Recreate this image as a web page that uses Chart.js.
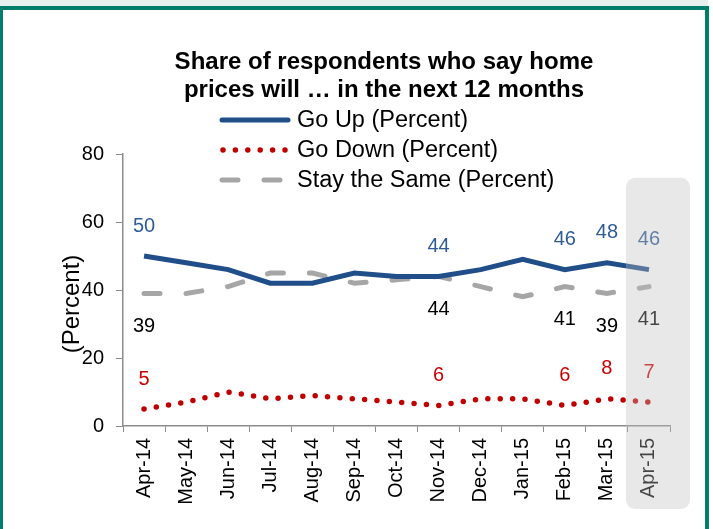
<!DOCTYPE html>
<html>
<head>
<meta charset="utf-8">
<script src="https://cdn.jsdelivr.net/npm/chart.js@4/dist/chart.umd.min.js"></script>
<style>
  html, body { margin: 0; padding: 0; background: #fff; }
  #strip { position: absolute; left: 0; top: 0; width: 708px; height: 6px; background: #e6f1ee; }
  #frame { position: absolute; left: 0; top: 6px; width: 702px; height: 540px; background: #fff;
           border-top: 4px solid #007e69; border-left: 3px solid #007e69; border-right: 4px solid #007e69; }
  #wrap { position: absolute; left: 0; top: 0; width: 713px; height: 529px; }
</style>
</head>
<body>
<div id="strip"></div>
<div id="frame"></div>
<div id="wrap"><canvas id="chart" width="713" height="529"></canvas></div>
<script>
const months = ['Apr-14','May-14','Jun-14','Jul-14','Aug-14','Sep-14','Oct-14','Nov-14','Dec-14','Jan-15','Feb-15','Mar-15','Apr-15'];
const goUp      = [50, 48, 46, 42, 42, 45, 44, 44, 46, 49, 46, 48, 46];
const goDown    = [5, 7, 10, 8, 9, 8, 7, 6, 8, 8, 6, 8, 7];
const staySame  = [39, 39, 41, 45, 45, 42, 43, 44, 41, 38, 41, 39, 41];
const labelIdx  = [0, 7, 10, 11, 12];   // months that carry value labels
const yTicks    = [0, 20, 40, 60, 80];

const BLUE = '#1f4e89', RED = '#c00000', GRAY = '#a6a6a6';
const FONT = 'Liberation Sans, Arial, sans-serif';

// title, legend, axis title, value labels and the grey highlight on the last month
const decor = {
  id: 'decor',
  afterDraw(chart) {
    const ctx = chart.ctx;
    const x = chart.scales.x, y = chart.scales.y;
    ctx.save();

    // title
    ctx.fillStyle = '#000';
    ctx.font = 'bold 24px ' + FONT;
    ctx.textAlign = 'center';
    ctx.textBaseline = 'middle';
    ctx.fillText('Share of respondents who say home', 384, 62);
    ctx.fillText('prices will … in the next 12 months', 384, 90);

    // legend
    ctx.font = '23.5px ' + FONT;
    ctx.textAlign = 'left';
    chart.data.datasets.forEach((ds, i) => {
      const ly = 120 + i * 30;
      ctx.beginPath();
      ctx.strokeStyle = ds.borderColor;
      ctx.lineWidth = ds.borderWidth;
      ctx.lineCap = 'round';
      ctx.setLineDash(ds.borderDash || []);
      ctx.moveTo(i === 1 ? 223 : 222, ly);
      ctx.lineTo(288, ly);
      ctx.stroke();
      ctx.setLineDash([]);
      ctx.fillStyle = '#000';
      ctx.fillText(ds.label, 297, ly + 1);
    });

    // y axis title
    ctx.save();
    ctx.translate(72, 304);
    ctx.rotate(-Math.PI / 2);
    ctx.textAlign = 'center';
    ctx.font = '24px ' + FONT;
    ctx.fillText('(Percent)', 0, 0);
    ctx.restore();

    // value labels
    ctx.font = '20px ' + FONT;
    ctx.textAlign = 'center';
    labelIdx.forEach(i => {
      const px = x.getPixelForValue(i);
      ctx.fillStyle = '#2f5b97';
      ctx.fillText(String(goUp[i]), px, y.getPixelForValue(goUp[i]) - 30);
      ctx.fillStyle = '#cc0000';
      ctx.fillText(String(goDown[i]), px, y.getPixelForValue(goDown[i]) - 30);
      ctx.fillStyle = '#000';
      ctx.fillText(String(staySame[i]), px, y.getPixelForValue(staySame[i]) + 33);
    });

    // highlight box over the latest month
    const left = (x.getPixelForValue(11) + x.getPixelForValue(12)) / 2 - 2;
    const right = x.right + 20;
    const top = y.getPixelForValue(73);
    const bottom = 509;
    ctx.fillStyle = 'rgba(190,190,190,0.36)';
    ctx.beginPath();
    ctx.roundRect(left, top, right - left, bottom - top, 9);
    ctx.fill();

    ctx.restore();
  }
};

new Chart(document.getElementById('chart'), {
  type: 'line',
  data: {
    labels: months,
    datasets: [
      { label: 'Go Up (Percent)', data: goUp, borderColor: BLUE, borderWidth: 5, pointRadius: 0, tension: 0 },
      { label: 'Go Down (Percent)', data: goDown, borderColor: RED, borderWidth: 5.5, borderDash: [0, 12.4], borderCapStyle: 'round', pointRadius: 0 },
      { label: 'Stay the Same (Percent)', data: staySame, borderColor: GRAY, borderWidth: 5, borderDash: [16, 26], borderCapStyle: 'round', pointRadius: 0 }
    ]
  },
  options: {
    responsive: false,
    animation: false,
    layout: { padding: { top: 154, right: 43, left: 0, bottom: 0 } },
    plugins: { legend: { display: false }, title: { display: false }, tooltip: { enabled: false } },
    scales: {
      x: {
        offset: true,
        grid: { offset: true, drawOnChartArea: false, drawTicks: true, tickLength: 6, color: '#8c8c8c' },
        border: { color: '#8c8c8c', width: 1.5 },
        ticks: { color: '#000', font: { family: FONT, size: 20 }, minRotation: 90, maxRotation: 90, padding: 6, autoSkip: false },
        afterFit(s) { s.height = 103; }
      },
      y: {
        min: 0, max: 80,
        afterBuildTicks(s) { s.ticks = yTicks.map(v => ({ value: v })); },
        grid: { drawOnChartArea: false, drawTicks: true, tickLength: 7, color: '#8c8c8c' },
        border: { color: '#8c8c8c', width: 1.5 },
        ticks: { color: '#000', font: { family: FONT, size: 20 }, padding: 12 },
        afterFit(s) { s.width = 123; }
      }
    }
  },
  plugins: [decor]
});
</script>
</body>
</html>
